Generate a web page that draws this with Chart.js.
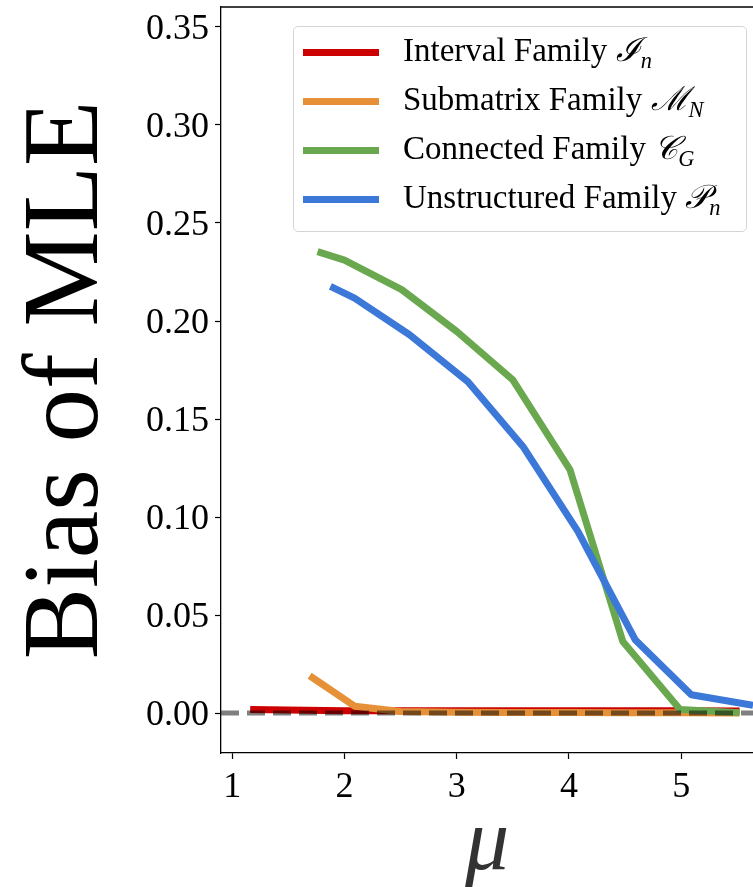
<!DOCTYPE html>
<html>
<head>
<meta charset="utf-8">
<script src="https://cdn.jsdelivr.net/npm/chart.js@4.4.0/dist/chart.umd.min.js"></script>
<style>
    html, body { margin: 0; padding: 0; background: #fff; overflow: hidden; }
    #wrap { position: relative; width: 753px; height: 887px; }
    #legend {
        position: absolute; left: 293px; top: 26px; width: 454px; height: 206px;
        box-sizing: border-box; border: 1px solid #d4d4d4; border-radius: 5px;
        background: rgba(255, 255, 255, 0.8);
        font-family: "Liberation Serif", serif; font-size: 33px; color: #000;
    }
    .swatch { position: absolute; left: 9px; width: 76px; height: 7px; }
    .label { position: absolute; left: 109px; line-height: 40px; white-space: nowrap; }
    .sym { font-family: "DejaVu Serif", serif; font-style: italic; }
    .label sub { font-size: 0.68em; font-style: italic; vertical-align: -0.3em; line-height: 0; }
</style>
</head>
<body>
<div id="wrap">
    <canvas id="chart" width="753" height="887"></canvas>
    <div id="legend"></div>
</div>
<script>
// Interval Family I_n
const intervalX = [1.16, 1.66, 2.0, 2.5, 3.0, 3.5, 4.0, 4.5, 5.0, 5.52];
const intervalY = [0.0018, 0.0014, 0.0012, 0.0011, 0.0011, 0.0011, 0.0011, 0.0011, 0.0011, 0.0010];

// Submatrix Family M_N
const submatrixX = [1.69, 2.09, 2.5, 3.0, 3.5, 4.0, 4.5, 5.0, 5.52];
const submatrixY = [0.019, 0.0035, 0.0008, 0.0004, 0.0003, 0.0002, 0.0001, 0.0001, 0.0];

// Connected Family C_G
const connectedX = [1.76, 2.0, 2.51, 3.0, 3.5, 4.01, 4.48, 4.99, 5.52];
const connectedY = [0.2354, 0.2311, 0.216, 0.1947, 0.170, 0.124, 0.0365, 0.0018, 0.0002];

// Unstructured Family P_n
const unstructuredX = [1.875, 2.09, 2.58, 3.10, 3.59, 4.08, 4.59, 5.09, 5.64];
const unstructuredY = [0.2177, 0.2117, 0.193, 0.169, 0.136, 0.0927, 0.0374, 0.0093, 0.0039];

// zero reference line
const zeroX = [0.9, 5.64];
const zeroY = [0, 0];

const names = ['Interval Family', 'Submatrix Family', 'Connected Family', 'Unstructured Family'];
const symbols = ['\u2110', '\u2133', '\uD835\uDC9E', '\uD835\uDCAB'];
const subs = ['n', 'N', 'G', 'n'];
const colors = ['#cc0000', '#e69138', '#6aa84f', '#3c78d8'];

const xTicks = [1, 2, 3, 4, 5];

function pts(xs, ys) {
    return xs.map((x, i) => ({ x: x, y: ys[i] }));
}

const series = [
    pts(intervalX, intervalY),
    pts(submatrixX, submatrixY),
    pts(connectedX, connectedY),
    pts(unstructuredX, unstructuredY)
];

const datasets = series.map((data, i) => ({
    label: names[i],
    data: data,
    borderColor: colors[i],
    borderWidth: 7,
    order: 5 - i
}));

datasets.push({
    label: 'zero',
    data: pts(zeroX, zeroY),
    borderColor: 'rgba(0, 0, 0, 0.5)',
    borderWidth: 5,
    borderDash: [18, 8],
    order: 0
});

// matplotlib style top spine
const topSpine = {
    id: 'topSpine',
    afterDraw(chart) {
        const { ctx, chartArea } = chart;
        ctx.save();
        ctx.strokeStyle = '#000';
        ctx.lineWidth = 1.3;
        ctx.beginPath();
        ctx.moveTo(chartArea.left, chartArea.top);
        ctx.lineTo(chartArea.right, chartArea.top);
        ctx.stroke();
        ctx.restore();
    }
};

const tickFont = { family: 'Liberation Serif', size: 36 };

new Chart(document.getElementById('chart'), {
    type: 'line',
    data: { datasets: datasets },
    options: {
        responsive: false,
        animation: false,
        devicePixelRatio: 1,
        layout: { padding: { top: 7, left: 0, right: 0, bottom: 0 } },
        plugins: {
            legend: { display: false },
            tooltip: { enabled: false }
        },
        elements: {
            point: { radius: 0 },
            line: { tension: 0, borderCapStyle: 'butt', borderJoinStyle: 'round' }
        },
        scales: {
            x: {
                type: 'linear',
                min: 0.9,
                max: 5.64,
                afterBuildTicks: s => { s.ticks = xTicks.map(v => ({ value: v })); },
                ticks: { font: tickFont, color: '#000', padding: 7, callback: v => String(v) },
                grid: { drawOnChartArea: false, tickLength: 6, tickWidth: 1.2, tickColor: '#000' },
                border: { color: '#000', width: 1.3 },
                title: {
                    display: true, text: '\u03BC', color: '#333',
                    font: { family: 'Liberation Serif', size: 88, style: 'italic', lineHeight: 1 },
                    padding: { top: 0, bottom: -3 }
                },
                afterFit: s => { s.height = 134; s.paddingLeft = 0; s.paddingRight = 0; }
            },
            y: {
                min: -0.0204,
                max: 0.3602,
                ticks: {
                    stepSize: 0.05, includeBounds: false, font: tickFont, color: '#000', padding: 6,
                    labelOffset: 3,
                    callback: v => v.toFixed(2)
                },
                grid: { drawOnChartArea: false, tickLength: 6, tickWidth: 1.2, tickColor: '#000' },
                border: { color: '#000', width: 1.3 },
                title: {
                    display: true, text: 'Bias of MLE', color: '#000',
                    font: { family: 'Liberation Serif', size: 107, lineHeight: 1 },
                    padding: { top: 15, bottom: 0 }
                },
                afterFit: s => { s.width = 221; s.paddingTop = 0; s.paddingBottom = 0; }
            }
        }
    },
    plugins: [topSpine]
});

// legend with subscripts, built from the same arrays
const legend = document.getElementById('legend');
const rowCenters = [25, 74, 123, 172];
names.forEach((name, i) => {
    const sw = document.createElement('div');
    sw.className = 'swatch';
    sw.style.top = (rowCenters[i] - 3.5) + 'px';
    sw.style.background = colors[i];
    legend.appendChild(sw);

    const lab = document.createElement('div');
    lab.className = 'label';
    lab.style.top = (rowCenters[i] - 22) + 'px';
    lab.textContent = name + ' ';
    const sym = document.createElement('span');
    sym.className = 'sym';
    sym.textContent = symbols[i];
    const sub = document.createElement('sub');
    sub.textContent = subs[i];
    lab.appendChild(sym);
    lab.appendChild(sub);
    legend.appendChild(lab);
});
</script>
</body>
</html>
